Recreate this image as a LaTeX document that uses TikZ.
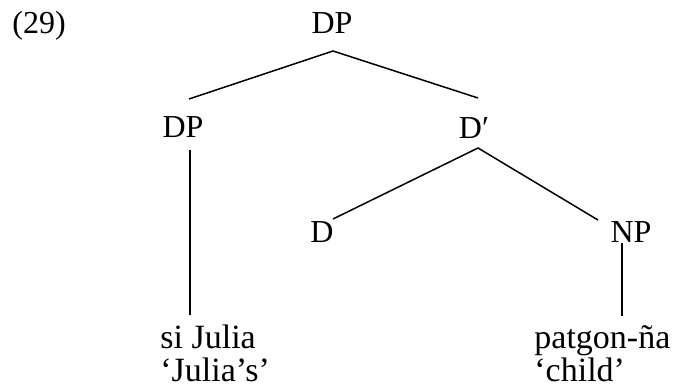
\documentclass[tikz,border=0pt]{standalone}
\usepackage{fontspec}
\setmainfont{Liberation Serif}
\begin{document}
\begin{tikzpicture}[x=0.5pt,y=-0.5pt,
  lab/.style={anchor=base,inner sep=0pt,font=\fontsize{16}{16}\selectfont},
  leaf/.style={anchor=base west,inner sep=0pt,font=\fontsize{17}{14.5}\selectfont},
  edge/.style={line width=0.75pt}]
\useasboundingbox (0,0) rectangle (679,389);
% labels
\node[anchor=base west,inner sep=0pt,font=\fontsize{16}{16}\selectfont] (ex) at (12,34) {(29)};
\node[lab] (dp0) at (332,34) {DP};
\node[lab] (dp1) at (183,138) {DP};
\node[lab] (dbar) at (474,139) {D\char"2032};
\node[lab] (d) at (322,243) {D};
\node[lab] (np) at (631,243) {NP};
\node[leaf] (l1) at (160,349) {\begin{tabular}[t]{@{}l@{}}si Julia\\\char"2018Julia\char"2019s\char"2019\end{tabular}};
\node[leaf] (l2) at (534,349) {\begin{tabular}[t]{@{}l@{}}patgon-ña\\\char"2018child\char"2019\end{tabular}};
% attachment points
\coordinate (dp0s) at (333,51);
\coordinate (dp1n) at (189,99);
\coordinate (dbarn) at (478,98);
\coordinate (dp1s) at (190,150);
\coordinate (l1n) at (190,315);
\coordinate (dbars) at (478,148);
\coordinate (dn) at (333,219);
\coordinate (npn) at (598,220);
\coordinate (nps) at (622,243);
\coordinate (l2n) at (622,316);
% edges
\draw[edge] (dp1n) -- (dp0s) -- (dbarn);
\draw[edge] (dp1s) -- (l1n);
\draw[edge] (dn) -- (dbars) -- (npn);
\draw[edge] (nps) -- (l2n);
\end{tikzpicture}
\end{document}
